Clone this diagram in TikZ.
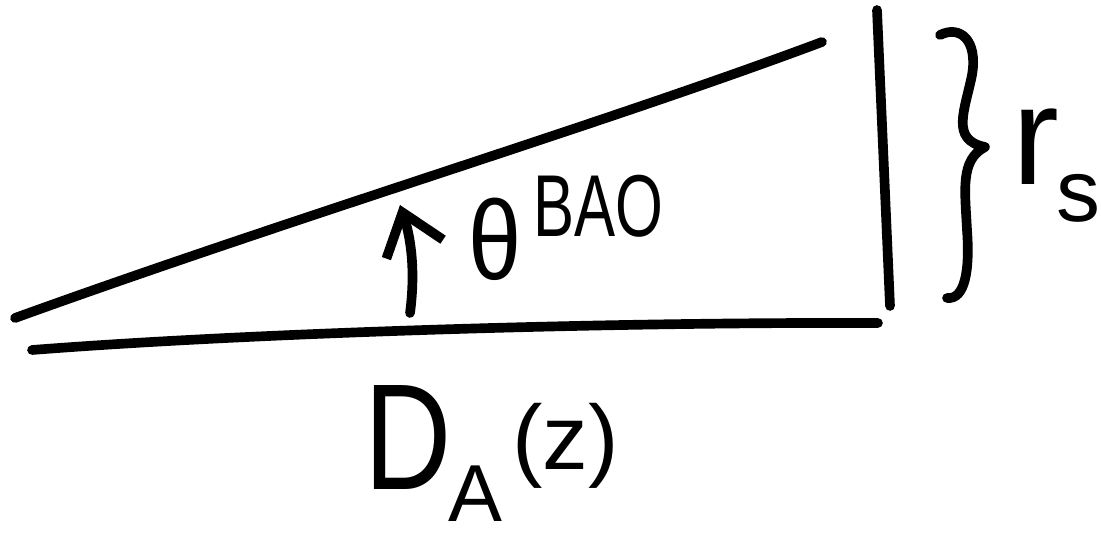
\documentclass[tikz,border=0pt]{standalone}
\usepackage{fontspec}
\setmainfont{Liberation Sans}
\usepackage{tikz}
\usetikzlibrary{arrows.meta, positioning}
\tikzset{
  stroke/.style={line width=5.5pt, line cap=round, line join=round, black},
  lbl/.style={inner sep=0pt, outer sep=0pt, text=black},
  barb/.style={stroke, -{Straight Barb[length=22pt, width=34pt, line width=5.5pt]}},
}

\begin{document}
\begin{tikzpicture}[x=0.2mm, y=-0.2mm]
    \useasboundingbox (0,0) rectangle (1101,541);
    % corners of the triangle
    \coordinate (bl) at (32,350);
    \coordinate (br) at (878,323);
    \coordinate (tl) at (15,318);
    \coordinate (tr) at (822,42);
    \coordinate (vt) at (877,10);
    \coordinate (vb) at (890,306);
    \coordinate (foot) at (410,313);
    \coordinate (tip) at (400,205);
    % sides
    \draw[stroke] (bl) .. controls (250,333) and (600,322) .. (br);
    \draw[stroke] (tl) .. controls (300,215) and (600,125) .. (tr);
    \draw[stroke] (vt) -- (vb);
    % angle arrow
    \draw[barb] (foot) .. controls (416,268) and (410,235) .. (tip);
    % brace
    \draw[stroke] (940,35) .. controls (960,25) and (978,40) .. (972,75)
      .. controls (965,110) and (950,140) .. (985,147)
      .. controls (960,160) and (965,190) .. (967,230)
      .. controls (970,270) and (965,300) .. (947,298);
    % labels
    \node[lbl, anchor=base west, xscale=0.85] (theta) at (468,280) {\fontsize{64}{64}\selectfont θ};
    \node[lbl, anchor=base west, xscale=0.7] (bao) at (533,237) {\fontsize{50}{50}\selectfont BAO};
    \node[lbl, anchor=base west, xscale=0.8] (dd) at (364,490) {\fontsize{86}{86}\selectfont D};
    \node[lbl, anchor=base west] (aa) at (448,522) {\fontsize{46}{46}\selectfont A};
    \node[lbl, anchor=base west] (zz) at (512,470) {\fontsize{52}{52}\selectfont (z)};
    \node[lbl, anchor=base west] (rr) at (1012,185) {\fontsize{80}{80}\selectfont r};
    \node[lbl, anchor=base west] (ss) at (1056,222) {\fontsize{50}{50}\selectfont s};
\end{tikzpicture}
\end{document}
